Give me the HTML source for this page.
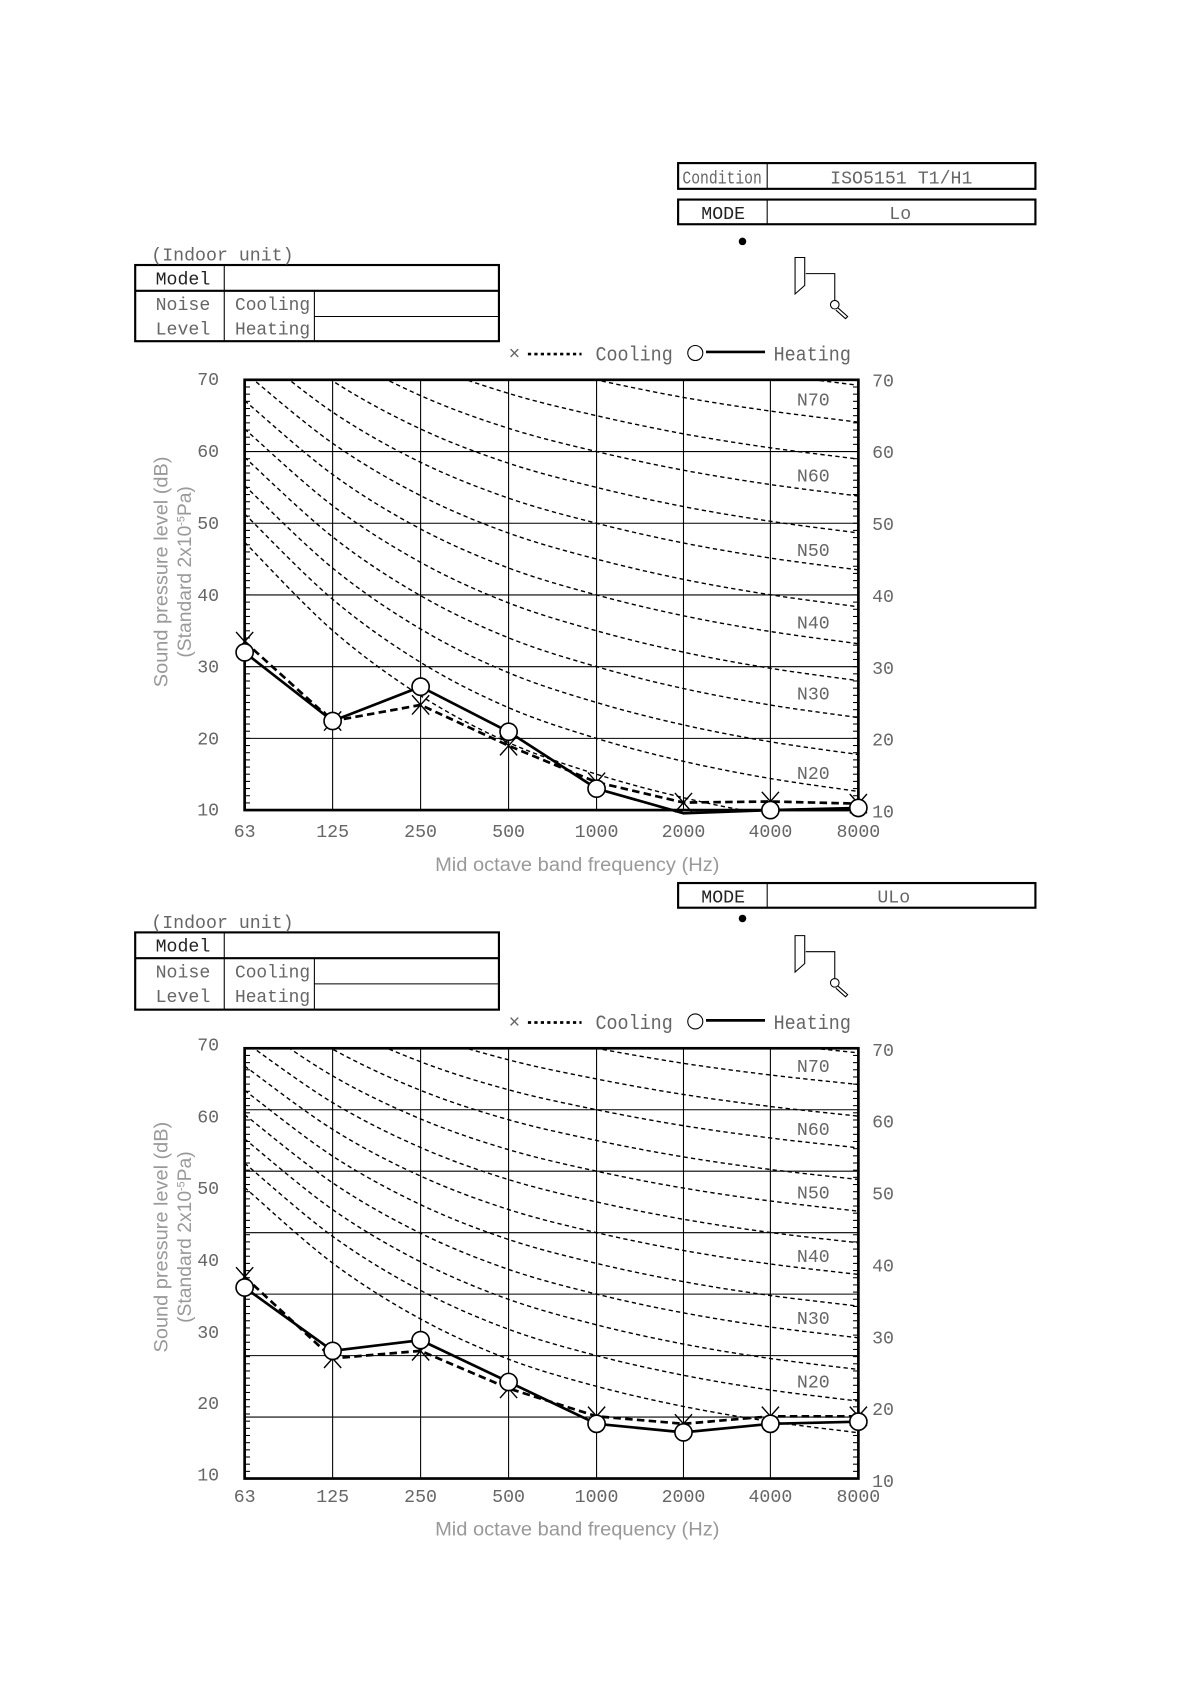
<!DOCTYPE html>
<html><head><meta charset="utf-8"><style>
html,body{margin:0;padding:0;background:#fff;}
svg{display:block;}
text{font-family:"Liberation Mono","Noto Sans CJK JP",monospace;}
.g{fill:#666;}
.s text{font-family:"Liberation Sans",sans-serif;fill:#999;}
</style></head><body>
<svg id="s" width="1191" height="1684" viewBox="0 0 1110 1569.5" preserveAspectRatio="none" xmlns="http://www.w3.org/2000/svg">
<defs>
<clipPath id="c1"><rect x="228" y="354" width="572" height="401"/></clipPath>
<clipPath id="c2"><rect x="228" y="977" width="572" height="401"/></clipPath>
</defs>
<g fill="none" stroke="#000" stroke-width="2">
<rect x="632" y="152" width="333" height="24"/><line x1="715" y1="152" x2="715" y2="176" stroke-width="1"/>
<rect x="632" y="186" width="333" height="23"/><line x1="715" y1="186" x2="715" y2="209" stroke-width="1"/>
<rect x="632" y="823" width="333" height="23"/><line x1="715" y1="823" x2="715" y2="846" stroke-width="1"/>
<rect x="126" y="247" width="339" height="71"/>
<line x1="126" y1="271" x2="465" y2="271"/><line x1="293" y1="295" x2="465" y2="295" stroke-width="1"/>
<line x1="209" y1="247" x2="209" y2="318" stroke-width="1"/><line x1="293" y1="271" x2="293" y2="318" stroke-width="1"/>
<rect x="126" y="869" width="339" height="72"/>
<line x1="126" y1="893" x2="465" y2="893"/><line x1="293" y1="917" x2="465" y2="917" stroke-width="1"/>
<line x1="209" y1="869" x2="209" y2="941" stroke-width="1"/><line x1="293" y1="893" x2="293" y2="941" stroke-width="1"/>
</g>
<g font-size="17" class="g">
<text x="636" y="171" textLength="74" lengthAdjust="spacingAndGlyphs">Condition</text>
<text x="840" y="171" text-anchor="middle">ISO5151 T1/H1</text>
<text x="674" y="204" text-anchor="middle" fill="#222">MODE</text>
<text x="839" y="204" text-anchor="middle">Lo</text>
<text x="674" y="841" text-anchor="middle" fill="#222">MODE</text>
<text x="833" y="841" text-anchor="middle">ULo</text>
<text x="141" y="243">(Indoor unit)</text>
<text x="145" y="265" fill="#222">Model</text>
<text x="145" y="289">Noise</text><text x="145" y="312">Level</text>
<text x="219" y="289" textLength="70" lengthAdjust="spacingAndGlyphs">Cooling</text><text x="219" y="312" textLength="70" lengthAdjust="spacingAndGlyphs">Heating</text>
<text x="141" y="865">(Indoor unit)</text>
<text x="145" y="887" fill="#222">Model</text>
<text x="145" y="911">Noise</text><text x="145" y="934">Level</text>
<text x="219" y="911" textLength="70" lengthAdjust="spacingAndGlyphs">Cooling</text><text x="219" y="934" textLength="70" lengthAdjust="spacingAndGlyphs">Heating</text>
<text x="474" y="335" font-size="18">×</text><text x="555" y="336" font-size="19" textLength="72" lengthAdjust="spacingAndGlyphs">Cooling</text>
<text x="721" y="336" font-size="19" textLength="72" lengthAdjust="spacingAndGlyphs">Heating</text>
<text x="474" y="958" font-size="18">×</text><text x="555" y="959" font-size="19" textLength="72" lengthAdjust="spacingAndGlyphs">Cooling</text>
<text x="721" y="959" font-size="19" textLength="72" lengthAdjust="spacingAndGlyphs">Heating</text>
</g>
<g stroke="#000" fill="none">
<line x1="492" y1="330" x2="542" y2="330" stroke-width="2.5" stroke-dasharray="3,3"/>
<circle cx="648" cy="329" r="7"/><line x1="658" y1="328" x2="713" y2="328" stroke-width="2.5"/>
<line x1="492" y1="953" x2="542" y2="953" stroke-width="2.5" stroke-dasharray="3,3"/>
<circle cx="648" cy="952" r="7"/><line x1="658" y1="951" x2="713" y2="951" stroke-width="2.5"/>
</g>
<circle cx="692" cy="225" r="3.5"/><circle cx="692" cy="856" r="3.5"/>
<g id="icon" fill="none" stroke="#000" stroke-width="1">
<path d="M741 240 L750 240 L750 266 L741 274 Z"/><path d="M751 255 L778 255 L778 280"/>
<circle cx="778" cy="284" r="4"/><path d="M781 287 L790 295 L788 297 L779 289"/>
</g>
<use href="#icon" transform="translate(0,632)"/>
<g id="charts"></g>
<g font-size="17" class="g" text-anchor="middle">
<text x="194" y="359">70</text><text x="194" y="426">60</text><text x="194" y="493">50</text><text x="194" y="560">40</text><text x="194" y="627">30</text><text x="194" y="694">20</text><text x="194" y="760">10</text>
<text x="823" y="360">70</text><text x="823" y="427">60</text><text x="823" y="494">50</text><text x="823" y="561">40</text><text x="823" y="628">30</text><text x="823" y="695">20</text><text x="823" y="762">10</text>
<text x="228" y="780">63</text><text x="310" y="780">125</text><text x="392" y="780">250</text><text x="474" y="780">500</text><text x="556" y="780">1000</text><text x="637" y="780">2000</text><text x="718" y="780">4000</text><text x="800" y="780">8000</text>
<text x="758" y="378">N70</text><text x="758" y="449">N60</text><text x="758" y="518">N50</text><text x="758" y="586">N40</text><text x="758" y="652">N30</text><text x="758" y="726">N20</text>
<text x="194" y="979">70</text><text x="194" y="1046">60</text><text x="194" y="1113">50</text><text x="194" y="1180">40</text><text x="194" y="1247">30</text><text x="194" y="1313">20</text><text x="194" y="1380">10</text>
<text x="823" y="984">70</text><text x="823" y="1051">60</text><text x="823" y="1118">50</text><text x="823" y="1185">40</text><text x="823" y="1252">30</text><text x="823" y="1319">20</text><text x="823" y="1386">10</text>
<text x="228" y="1400">63</text><text x="310" y="1400">125</text><text x="392" y="1400">250</text><text x="474" y="1400">500</text><text x="556" y="1400">1000</text><text x="637" y="1400">2000</text><text x="718" y="1400">4000</text><text x="800" y="1400">8000</text>
<text x="758" y="999">N70</text><text x="758" y="1058">N60</text><text x="758" y="1117">N50</text><text x="758" y="1176">N40</text><text x="758" y="1234">N30</text><text x="758" y="1293">N20</text>
</g>
<g class="s" font-size="18" text-anchor="middle">
<text x="538" y="812" textLength="265" lengthAdjust="spacingAndGlyphs">Mid octave band frequency  (Hz)</text>
<text x="538" y="1431" textLength="265" lengthAdjust="spacingAndGlyphs">Mid octave band frequency  (Hz)</text>
<text transform="translate(156,533) rotate(-90)" textLength="215" lengthAdjust="spacingAndGlyphs">Sound pressure level (dB)</text>
<text transform="translate(178,533) rotate(-90)">(Standard 2x10<tspan font-size="10" dy="-6">-5</tspan><tspan dy="6">Pa)</tspan></text>
<text transform="translate(156,1153) rotate(-90)" textLength="215" lengthAdjust="spacingAndGlyphs">Sound pressure level (dB)</text>
<text transform="translate(178,1153) rotate(-90)">(Standard 2x10<tspan font-size="10" dy="-6">-5</tspan><tspan dy="6">Pa)</tspan></text>
</g>
</svg>
<script>
var NS="http://www.w3.org/2000/svg",G=document.getElementById("charts");
function el(t,a,p){var e=document.createElementNS(NS,t);for(var k in a)e.setAttribute(k,a[k]);(p||G).appendChild(e);return e;}
var X=[228,310,392,474,556,637,718,800];
var A=[35.5,22,12,4.8,0,-3.5,-6.1,-8],B=[0.79,0.87,0.93,0.974,1,1.015,1.025,1.03];
function spline(P){var d="M"+P[0][0]+" "+P[0][1];for(var i=0;i<P.length-1;i++){var p0=P[i-1]||P[i],p1=P[i],p2=P[i+1],p3=P[i+2]||p2;
d+=" C"+(p1[0]+(p2[0]-p0[0])/6)+" "+(p1[1]+(p2[1]-p0[1])/6)+" "+(p2[0]-(p3[0]-p1[0])/6)+" "+(p2[1]-(p3[1]-p1[1])/6)+" "+p2[0]+" "+p2[1];}return d;}
function chart(top,yf,clip,bands,heat,cool){
 var bot=top+401,g=el("g",{});
 var cg=el("g",{"clip-path":"url(#"+clip+")"},g);
 for(var n=15;n<=80;n+=5){var P=X.map(function(x,i){return [x,yf(A[i]+B[i]*n)];});
  el("path",{d:spline(P),fill:"none",stroke:"#000","stroke-width":1.3,"stroke-dasharray":"4,3"},cg);}
 for(var i=1;i<7;i++)el("line",{x1:X[i],y1:top,x2:X[i],y2:bot,stroke:"#000","stroke-width":1},g);
 for(var j=1;j<bands;j++){var y=top+401*j/bands;el("line",{x1:228,y1:y,x2:800,y2:y,stroke:"#000","stroke-width":1},g);}
 for(var k=1;k<60;k++){var y=top+401*k/60;el("line",{x1:228,y1:y,x2:233,y2:y,stroke:"#000"},g);el("line",{x1:795,y1:y,x2:800,y2:y,stroke:"#000"},g);}
 el("rect",{x:228,y:top,width:572,height:401,fill:"none",stroke:"#000","stroke-width":2.5},g);
 el("polyline",{points:X.map(function(x,i){return x+","+cool[i];}).join(" "),fill:"none",stroke:"#000","stroke-width":2.5,"stroke-dasharray":"7,4"},g);
 el("polyline",{points:X.map(function(x,i){return x+","+heat[i];}).join(" "),fill:"none",stroke:"#000","stroke-width":2.5},g);
 X.forEach(function(x,i){var y=cool[i];el("path",{d:"M"+(x-8)+" "+(y-9)+"L"+(x+8)+" "+(y+9)+"M"+(x+8)+" "+(y-9)+"L"+(x-8)+" "+(y+9),stroke:"#000","stroke-width":1.3},g);});
 X.forEach(function(x,i){if(heat[i]>bot+1)return;el("circle",{cx:x,cy:heat[i],r:8,fill:"#fff",stroke:"#000","stroke-width":1.5},g);});
}
chart(354,function(d){return 755-(d-10)*6.683;},"c1",6,[608,672,640,682,735,758,755,753],[598,672,657,695,729,748,747,749]);
chart(977,function(d){return 1378-d*5.729;},"c2",7,[1200,1259,1249,1288,1327,1335,1327,1325],[1190,1266,1259,1294,1320,1327,1320,1320]);
</script>
</body></html>
